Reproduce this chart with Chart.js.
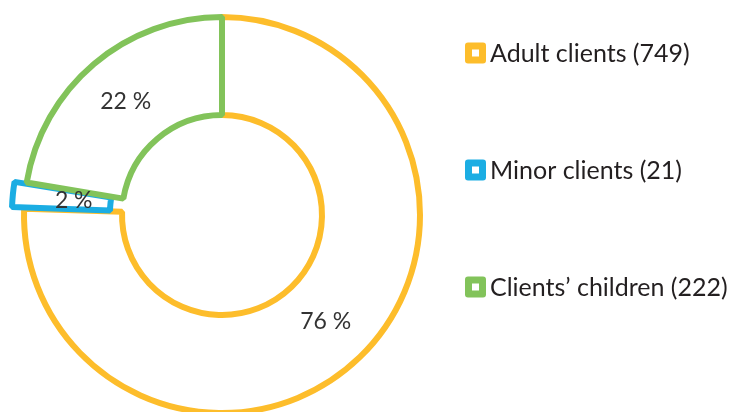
<!DOCTYPE html>
<html>
<head>
<meta charset="utf-8">
<script src="https://cdn.jsdelivr.net/npm/chart.js@4.4.1/dist/chart.umd.min.js"></script>
<style>
  html, body { margin: 0; padding: 0; background: #fff; overflow: hidden; }
  #wrap { position: relative; width: 729px; height: 430px; }
</style>
</head>
<body>
<div id="wrap"><canvas id="donut"></canvas></div>
<script>
const categories = ["Adult clients", "Minor clients", "Clients\u2019 children"];
const clientCounts = [749, 21, 222];
const sliceColors = ["#fdbd2b", "#1bade3", "#82c35a"];

const total = clientCounts.reduce((a, b) => a + b, 0);

// "76 %" style labels in the middle of each ring segment (ignoring the offset)
const percentLabels = {
    id: 'percentLabels',
    afterDatasetsDraw(chart) {
        const ctx = chart.ctx;
        const meta = chart.getDatasetMeta(0);
        ctx.save();
        ctx.font = '23px Lato';
        ctx.fillStyle = '#333333';
        ctx.textAlign = 'center';
        ctx.textBaseline = 'middle';
        meta.data.forEach(function(arc, i) {
            let p = arc.getProps(['x', 'y', 'startAngle', 'endAngle', 'innerRadius', 'outerRadius'], true);
            let mid = (p.startAngle + p.endAngle) / 2;
            let r = (p.innerRadius + p.outerRadius) / 2;
            let pct = Math.round(clientCounts[i] / total * 100);
            ctx.fillText(pct + ' %', p.x + Math.cos(mid) * r, p.y + Math.sin(mid) * r);
        });
        ctx.restore();
    }
};

// legend on the right: coloured square with a small white hole
const sideLegend = {
    id: 'sideLegend',
    afterDraw(chart) {
        const ctx = chart.ctx;
        const left = 465, top = 53, step = 117, size = 21;
        ctx.save();
        ctx.font = '25px Lato';
        ctx.textBaseline = 'middle';
        categories.forEach(function(name, i) {
            let cy = top + i * step;
            ctx.fillStyle = sliceColors[i];
            ctx.beginPath();
            ctx.roundRect(left, cy - size / 2, size, size, 3);
            ctx.fill();
            ctx.fillStyle = '#ffffff';
            ctx.fillRect(left + 7, cy - 3.5, 7, 7);
            ctx.fillStyle = '#231f20';
            ctx.fillText(name + ' (' + clientCounts[i] + ')', left + 25, cy + 1);
        });
        ctx.restore();
    }
};

let ctx = document.getElementById('donut').getContext('2d');

let donutChart = new Chart(ctx, {
    type: 'doughnut',
    data: {
        labels: categories,
        datasets: [{
            data: clientCounts,
            backgroundColor: '#ffffff',
            borderColor: sliceColors,
            borderWidth: 6,
            offset: [0, 26, 0]
        }]
    },
    options: {
        responsive: true,
        maintainAspectRatio: false,
        animation: false,
        events: [],
        radius: 198,
        cutout: '50.5%',
        layout: { padding: { top: 0, left: 0, right: 285, bottom: 0 } },
        plugins: {
            tooltip: { enabled: false },
            legend: { display: false }
        }
    },
    plugins: [percentLabels, sideLegend]
});
</script>
</body>
</html>
